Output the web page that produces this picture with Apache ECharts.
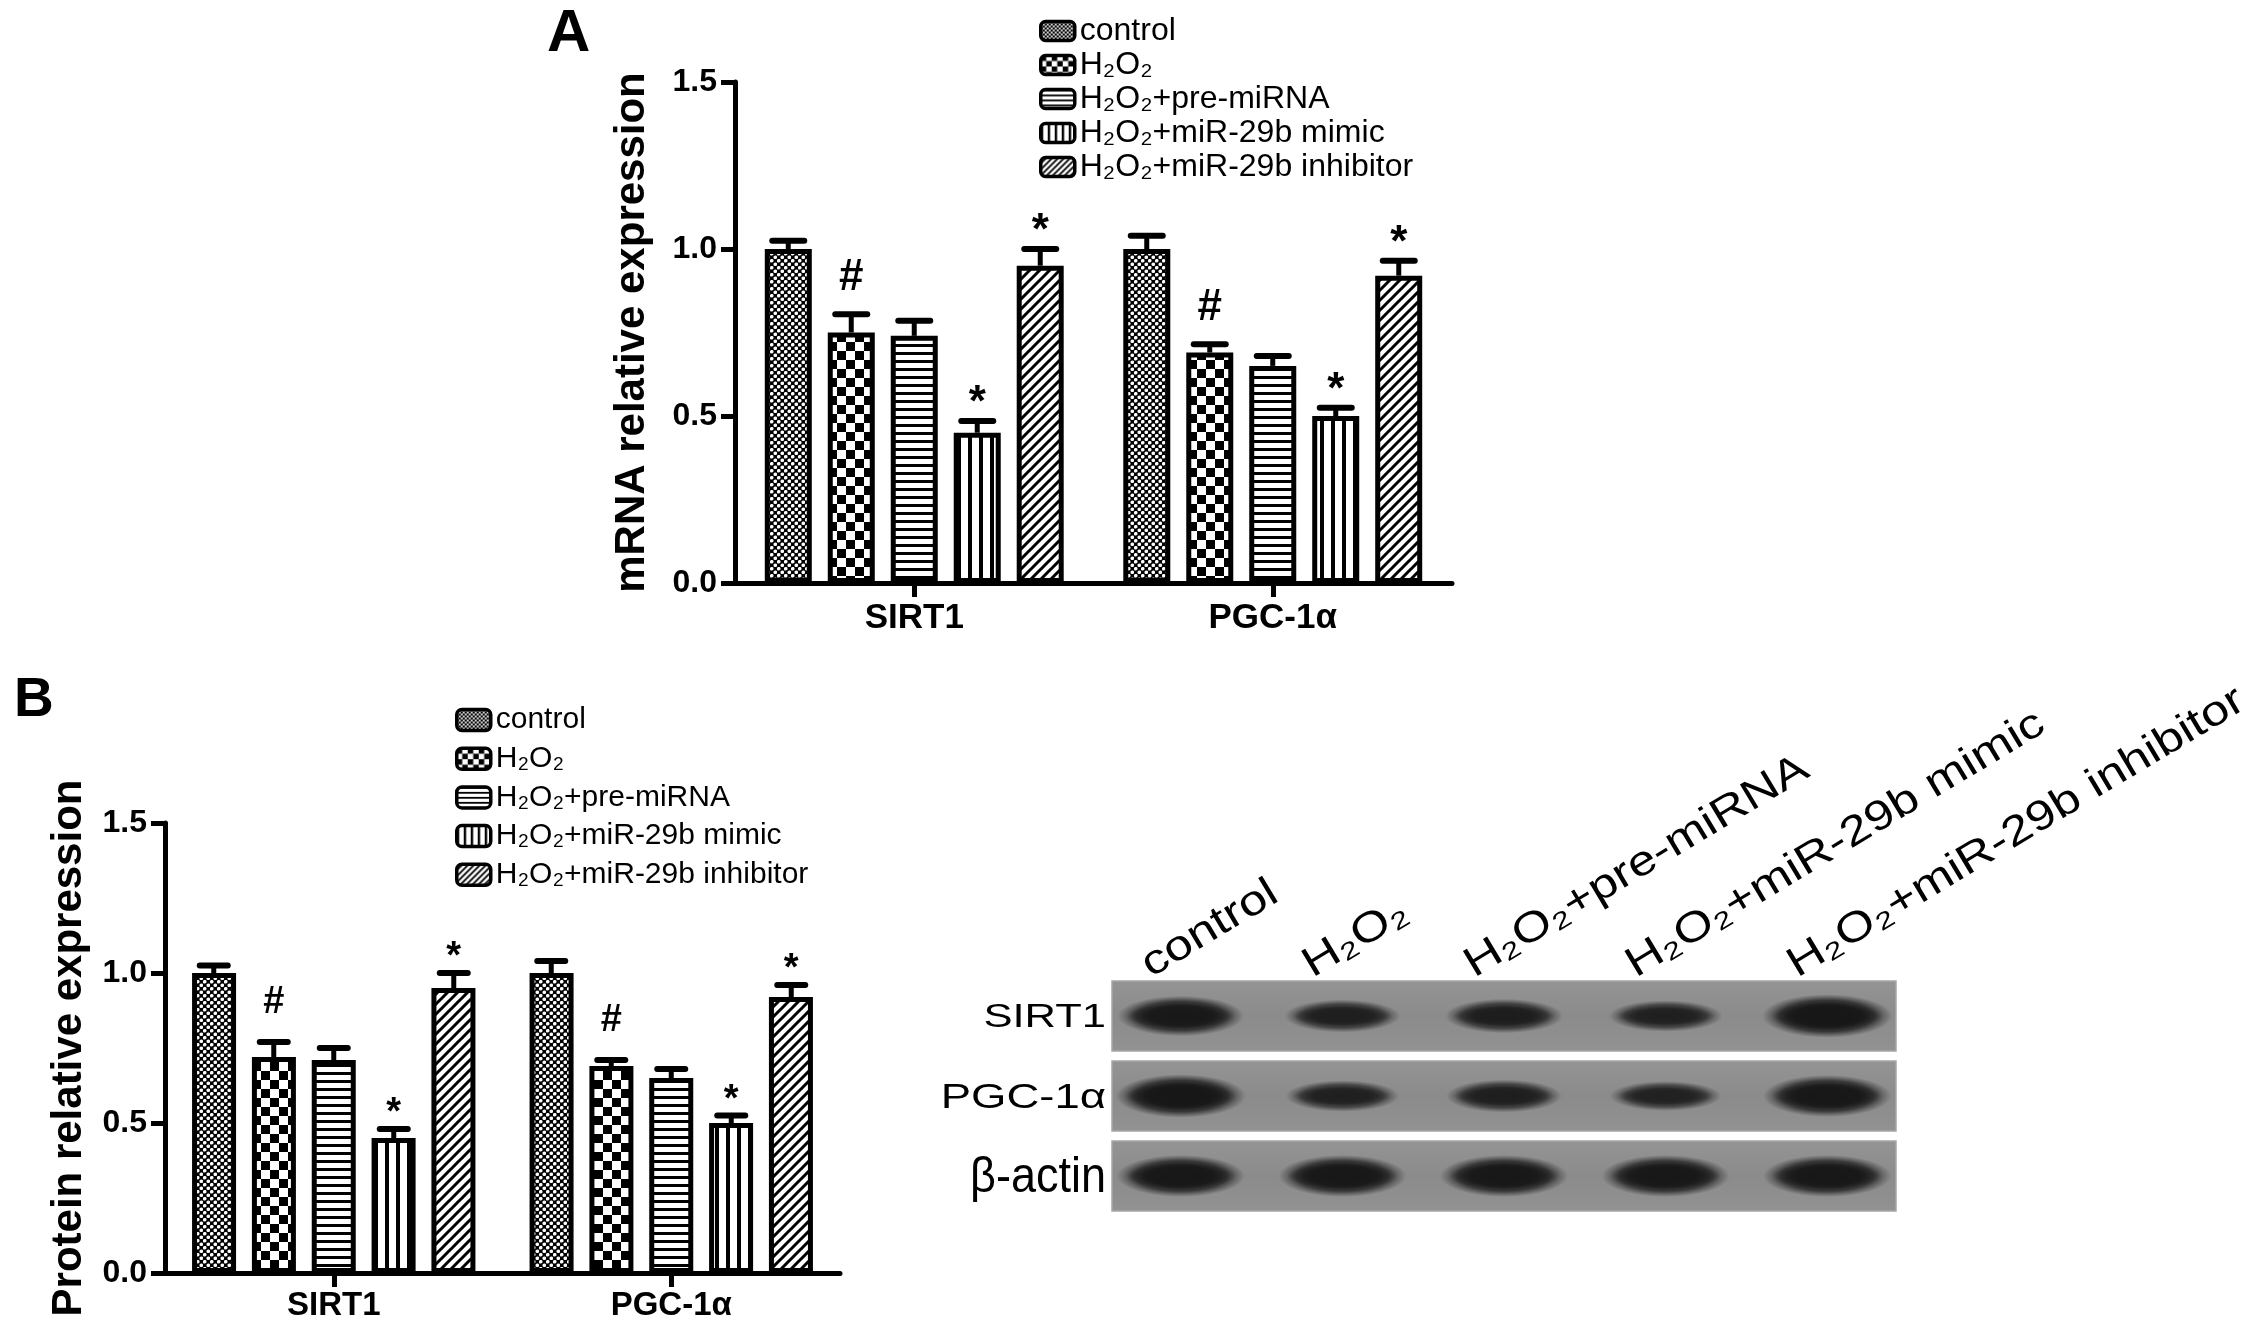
<!DOCTYPE html>
<html><head><meta charset="utf-8">
<script src="https://cdn.jsdelivr.net/npm/echarts@6/dist/echarts.min.js"></script>
<style>html,body{margin:0;padding:0;background:#fff}#c{width:2268px;height:1335px}</style>
</head><body><div id="c"></div>
<script>
// ---------------- data ----------------
const categories = ['SIRT1', 'PGC-1α'];
const groups = ['control', 'H₂O₂', 'H₂O₂+pre-miRNA', 'H₂O₂+miR-29b mimic', 'H₂O₂+miR-29b inhibitor'];
const yTicks = [0, 0.5, 1.0, 1.5];
const yTickLabels = ['0.0', '0.5', '1.0', '1.5'];
// Panel A: mRNA relative expression (mean, SEM) per group
const mrnaSIRT1 = [1.00, 0.75, 0.74, 0.45, 0.95];
const mrnaPGC = [1.00, 0.69, 0.65, 0.50, 0.92];
const mrnaSIRT1Err = [0.025, 0.055, 0.045, 0.035, 0.05];
const mrnaPGCErr = [0.04, 0.025, 0.03, 0.025, 0.045];
// Panel B: protein relative expression
const proteinSIRT1 = [1.00, 0.72, 0.71, 0.45, 0.95];
const proteinPGC = [1.00, 0.69, 0.65, 0.50, 0.92];
const proteinSIRT1Err = [0.025, 0.05, 0.04, 0.03, 0.05];
const proteinPGCErr = [0.04, 0.02, 0.03, 0.025, 0.04];
const sigSIRT1 = ['', '#', '', '*', '*'];
const sigPGC = ['', '#', '', '*', '*'];
// Western blot: relative band intensity per lane
const blotLanes = ['control', 'H₂O₂', 'H₂O₂+pre-miRNA', 'H₂O₂+miR-29b mimic', 'H₂O₂+miR-29b inhibitor'];
const blotRows = ['SIRT1', 'PGC-1α', 'β-actin'];
const bandSIRT1 = [0.9, 0.65, 0.7, 0.6, 1.0];
const bandPGC = [1.0, 0.6, 0.65, 0.55, 0.95];
const bandActin = [0.95, 0.95, 0.95, 0.95, 0.95];

// ---------------- styling ----------------
const FF = '"Liberation Sans", Arial, Helvetica, sans-serif';

function tile(w, h, draw) {
  const c = document.createElement('canvas');
  c.width = w; c.height = h;
  const g = c.getContext('2d');
  g.fillStyle = '#fff'; g.fillRect(0, 0, w, h);
  g.fillStyle = '#000'; g.strokeStyle = '#000';
  draw(g, w, h);
  return { image: c, repeat: 'repeat' };
}
function makePatterns(s) {
  const R = v => Math.max(2, Math.round(v * s));
  return [
    // control: fine dotted
    tile(R(7), R(7), (g, w, h) => {
      g.fillRect(0, 0, w, h); g.fillStyle = '#fff';
      g.beginPath(); g.arc(w * 0.25, h * 0.25, w * 0.26, 0, Math.PI * 2); g.fill();
      g.beginPath(); g.arc(w * 0.75, h * 0.75, w * 0.26, 0, Math.PI * 2); g.fill();
    }),
    // H2O2: checkerboard
    tile(R(18), R(18), (g, w, h) => {
      g.fillRect(0, 0, w / 2, h / 2); g.fillRect(w / 2, h / 2, w / 2, h / 2);
    }),
    // pre-miRNA: horizontal stripes
    tile(4, R(8), (g, w, h) => { g.fillRect(0, 0, w, Math.max(1, 3 * s)); }),
    // mimic: vertical stripes
    tile(R(11), 4, (g, w, h) => { g.fillRect(0, 0, Math.max(1, 4 * s), h); }),
    // inhibitor: diagonal stripes
    tile(R(10), R(10), (g, w, h) => {
      g.lineWidth = Math.max(1, 3 * s);
      g.beginPath();
      g.moveTo(-1, h + 1); g.lineTo(w + 1, -1);
      g.moveTo(-1, 1); g.lineTo(1, -1);
      g.moveTo(w - 1, h + 1); g.lineTo(w + 1, h - 1);
      g.stroke();
    })
  ];
}
const barPat = makePatterns(1);
const legPat = makePatterns(0.6);

function barSeries(gi, v1, v2, bw, gap) {
  return groups.map((name, i) => ({
    type: 'bar', name, xAxisIndex: gi, yAxisIndex: gi,
    data: [v1[i], v2[i]],
    barWidth: bw, barGap: gap,
    itemStyle: { color: barPat[i], borderColor: '#000', borderWidth: 5 },
    emphasis: { disabled: true }, silent: true, z: 2
  }));
}

function errSeries(gi, v1, v2, e1, e2, step, capHalf, fs, hashOff, starOff) {
  const data = [], sig = [];
  for (let i = 0; i < 5; i++) {
    data.push([0, v1[i], e1[i], i]); sig.push(sigSIRT1[i]);
    data.push([1, v2[i], e2[i], i]); sig.push(sigPGC[i]);
  }
  return {
    type: 'custom', xAxisIndex: gi, yAxisIndex: gi, data, z: 6, silent: true,
    encode: { x: 0, y: 1 },
    renderItem(params, api) {
      const cat = api.value(0), v = api.value(1), e = api.value(2), k = api.value(3);
      const base = api.coord([cat, v]);
      const top = api.coord([cat, v + e]);
      const x = base[0] + (k - 2) * step;
      const ch = [
        { type: 'line', shape: { x1: x, y1: base[1], x2: x, y2: top[1] }, style: { stroke: '#000', lineWidth: 5 } },
        { type: 'line', shape: { x1: x - capHalf, y1: top[1], x2: x + capHalf, y2: top[1] }, style: { stroke: '#000', lineWidth: 6, lineCap: 'round' } }
      ];
      const s = sig[params.dataIndex];
      if (s) {
        ch.push({
          type: 'text', x: x, y: top[1] - (s === '#' ? hashOff : starOff),
          style: { text: s, fontSize: fs, fontWeight: 'bold', fontFamily: FF, fill: '#000',
                   align: 'center', textAlign: 'center', verticalAlign: 'middle', textVerticalAlign: 'middle' }
        });
      }
      return { type: 'group', children: ch };
    }
  };
}

function valueAxis(gi, name, gap) {
  return {
    type: 'value', gridIndex: gi, min: 0, max: 1.5, interval: 0.5,
    axisLine: { show: true, lineStyle: { color: '#000', width: 5 } },
    axisTick: { show: true, length: 14, lineStyle: { color: '#000', width: 5 } },
    axisLabel: { fontSize: 32, fontWeight: 'bold', color: '#000', margin: 18, fontFamily: FF,
                 formatter: v => { const j = yTicks.indexOf(v); return j >= 0 ? yTickLabels[j] : v.toFixed(1); } },
    splitLine: { show: false },
    name, nameLocation: 'middle', nameRotate: 90, nameGap: gap,
    nameTextStyle: { fontSize: 42, fontWeight: 'bold', color: '#000', fontFamily: FF }
  };
}
function catAxis(gi, fs, margin) {
  return {
    type: 'category', gridIndex: gi, data: categories,
    axisLine: { show: true, lineStyle: { color: '#000', width: 5 } },
    axisTick: { show: true, alignWithLabel: true, length: 14, lineStyle: { color: '#000', width: 5 } },
    axisLabel: { fontSize: fs, fontWeight: 'bold', color: '#000', margin, fontFamily: FF }
  };
}
function legendOf(left, top, ih, gap, fs) {
  return {
    orient: 'vertical', left, top, itemWidth: 34, itemHeight: ih, itemGap: gap, padding: 0,
    selectedMode: false, icon: 'roundRect',
    itemStyle: { borderColor: '#000', borderWidth: 3.5 },
    data: groups.map((n, i) => ({ name: n, icon: 'roundRect',
      itemStyle: { color: legPat[i], borderColor: '#000', borderWidth: 3.5 } })),
    textStyle: { fontSize: fs, color: '#000', fontFamily: FF }
  };
}

// blot
const bandData = [];
[bandSIRT1, bandPGC, bandActin].forEach((arr, r) => arr.forEach((v, l) => bandData.push([l, r, v])));
const rowFont = [[34, 1.28], [35, 1.3], [50, 0.9]];
function bandGradient(a) {
  const c = 'rgba(22,22,22,';
  return { type: 'radial', x: 0.5, y: 0.5, r: 0.5, colorStops: [
    { offset: 0, color: c + a + ')' },
    { offset: 0.5, color: c + (a * 0.97) + ')' },
    { offset: 0.72, color: c + (a * 0.75) + ')' },
    { offset: 0.88, color: c + (a * 0.3) + ')' },
    { offset: 1, color: c + '0)' } ] };
}

const option = {
  animation: false,
  backgroundColor: '#fff',
  title: [
    { text: 'A', left: 547, top: 4, padding: 0, textStyle: { fontSize: 60, fontWeight: 'bold', color: '#000', fontFamily: FF } },
    { text: 'B', left: 14, top: 673, padding: 0, textStyle: { fontSize: 55, fontWeight: 'bold', color: '#000', fontFamily: FF } }
  ],
  legend: [legendOf(1039, 15, 19, 2, 32), legendOf(455, 705, 21, 8.7, 30)],
  grid: [
    { left: 735, top: 82, width: 717, height: 501, outerBoundsMode: 'none' },
    { left: 165, top: 823, width: 675, height: 450, outerBoundsMode: 'none' },
    { left: 1100, top: 976, width: 808, height: 240, outerBoundsMode: 'none' }
  ],
  xAxis: [
    catAxis(0, 35, 18),
    catAxis(1, 33, 16),
    { type: 'category', gridIndex: 2, data: blotLanes, show: false }
  ],
  yAxis: [
    valueAxis(0, 'mRNA relative expression', 82),
    valueAxis(1, 'Protein relative expression', 75),
    { type: 'category', gridIndex: 2, data: blotRows, inverse: true, show: false }
  ],
  series: [
    ...barSeries(0, mrnaSIRT1, mrnaPGC, 47, '34%'),
    ...barSeries(1, proteinSIRT1, proteinPGC, 44, '36%'),
    errSeries(0, mrnaSIRT1, mrnaPGC, mrnaSIRT1Err, mrnaPGCErr, 63, 16, 44, 36, 17),
    errSeries(1, proteinSIRT1, proteinPGC, proteinSIRT1Err, proteinPGCErr, 60, 14, 38, 39, 15),
    // blot panels + row labels
    {
      type: 'custom', xAxisIndex: 2, yAxisIndex: 2, silent: true, z: 1,
      data: blotRows.map((r, i) => [0, i]),
      renderItem(params, api) {
        const cs = params.coordSys, i = params.dataIndex;
        const yc = api.coord([0, api.value(1)])[1];
        return { type: 'group', children: [
          { type: 'rect', shape: { x: cs.x + 12, y: yc - 35, width: cs.width - 24, height: 70 },
            style: { fill: { type: 'linear', x: 0, y: 0, x2: 0, y2: 1, colorStops: [
                { offset: 0, color: '#949494' }, { offset: 0.5, color: '#8b8b8b' }, { offset: 1, color: '#929292' } ] },
              stroke: '#a6a6a6', lineWidth: 1.5 } },
          { type: 'text', x: cs.x + 6, y: yc + 2, scaleX: rowFont[i][1],
            style: { text: blotRows[i], fontSize: rowFont[i][0], fontFamily: FF, fill: '#000',
                     align: 'right', textAlign: 'right', verticalAlign: 'middle', textVerticalAlign: 'middle' } }
        ] };
      }
    },
    // bands (soft ellipses)
    {
      type: 'custom', xAxisIndex: 2, yAxisIndex: 2, silent: true, z: 2,
      data: bandData, encode: { x: 0, y: 1 },
      renderItem(params, api) {
        const l = api.value(0), r = api.value(1), v = api.value(2);
        const p = api.coord([l, r]);
        const w = (80 + 36 * v) * 1.12, h = (9 + 21 * v) * 1.45;
        return { type: 'group', children: [
          { type: 'circle', x: p[0], y: p[1], scaleX: w / 100, scaleY: h / 100,
            shape: { cx: 0, cy: 0, r: 50 },
            style: { fill: bandGradient(0.55 + 0.43 * v) } },
          { type: 'circle', x: p[0], y: p[1], scaleX: w * 0.86 / 100, scaleY: h * 0.62 / 100,
            shape: { cx: 0, cy: 0, r: 50 },
            style: { fill: bandGradient(0.35 + 0.4 * v) } }
        ] };
      }
    },
    // lane labels
    {
      type: 'custom', xAxisIndex: 2, yAxisIndex: 2, silent: true, z: 3,
      data: blotLanes.map((n, i) => [i, 0]),
      renderItem(params, api) {
        const i = params.dataIndex;
        const xc = api.coord([i, 0])[0];
        const top = api.coord([0, 0])[1] - 35;
        return { type: 'text', x: xc - 25, y: top + 5, rotation: 31 * Math.PI / 180, scaleX: 1.2,
          style: { text: blotLanes[i], fontSize: 42, fontFamily: FF, fill: '#000',
                   align: 'left', textAlign: 'left', verticalAlign: 'bottom', textVerticalAlign: 'bottom' } };
      }
    }
  ]
};
const chart = echarts.init(document.getElementById('c'), null, { renderer: 'canvas' });
chart.setOption(option);
</script>
</body></html>
